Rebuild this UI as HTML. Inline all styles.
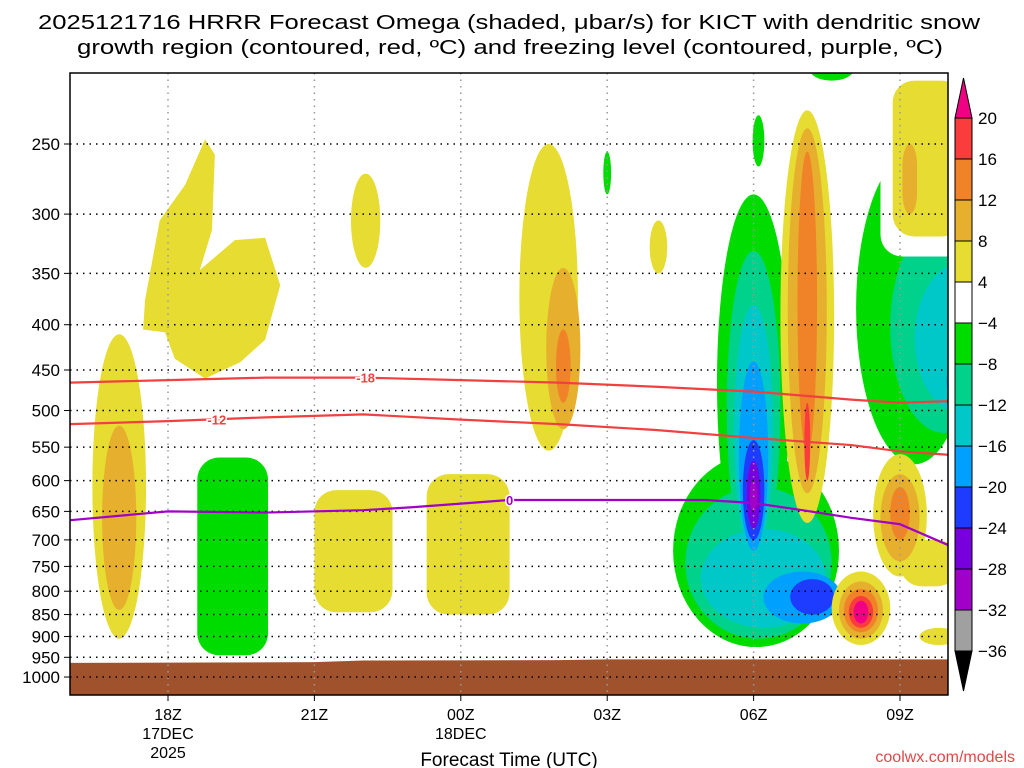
<!DOCTYPE html>
<html><head><meta charset="utf-8">
<style>
html,body{margin:0;padding:0;background:#fff;}
svg{display:block;font-family:"Liberation Sans",sans-serif;}
</style></head>
<body>
<svg id="chart" width="1024" height="768" viewBox="0 0 1024 768">
<text x="509" y="29" font-size="20" text-anchor="middle" textLength="942" lengthAdjust="spacingAndGlyphs">2025121716 HRRR Forecast Omega (shaded, μbar/s) for KICT with dendritic snow</text>
<text x="510" y="54" font-size="20" text-anchor="middle" textLength="866" lengthAdjust="spacingAndGlyphs">growth region (contoured, red, ºC) and freezing level (contoured, purple, ºC)</text>
<g id="plot"></g>
<g id="axes"></g>
<g id="cbar"></g>
<text x="509" y="766" font-size="19" text-anchor="middle">Forecast Time (UTC)</text>
<text x="1015" y="762" font-size="16" text-anchor="end" fill="#e04848">coolwx.com/models</text>
</svg>
<script>
// ---- data ----
const levelColors = ["#a0a0a0","#a000c8","#7800dc","#1e3cff","#00a0ff","#00c8c8","#00d28c","#00dc00","#ffffff","#e6dc32","#e6af2d","#f08228","#fa3c3c"];
const cbarLabels = ["20","16","12","8","4","-4","-8","-12","-16","-20","-24","-28","-32","-36"];
const pressureTicks = [250,300,350,400,450,500,550,600,650,700,750,800,850,900,950,1000];
const timeTickHours = [2,5,8,11,14,17];
const timeTickLabels = ["18Z","21Z","00Z","03Z","06Z","09Z"];
const dateLabels = {2:["17DEC","2025"],8:["18DEC"]};
// ellipses: [centerHour, halfWidthHours, pTop, pBottom, colorIndex]
const blobs = [
 [1.0,0.55,410,905,9],[1.0,0.35,520,840,10],
 [6.05,0.3,270,345,9],
 [9.8,0.6,250,555,9],[10.1,0.35,345,525,10],[10.1,0.15,405,490,11],
 [11.0,0.08,255,285,7],[12.05,0.18,305,350,9],
 [14.1,0.12,232,265,7],[15.6,0.45,200,212,7],[18.0,0.15,200,215,7],
 [14.0,0.75,285,760,7],[14.05,1.7,560,925,7],
 [14.0,0.55,330,745,6],[14.1,1.5,610,905,6],
 [14.0,0.4,380,725,5],[14.2,1.28,680,880,5],
 [14.0,0.3,440,720,4],[15.0,0.8,760,870,4],
 [14.0,0.22,540,700,3],[15.2,0.45,775,850,3],
 [14.0,0.14,570,680,2],[14.0,0.08,600,650,1],
 [15.1,0.55,229,670,9],[15.1,0.4,240,620,10],[15.1,0.2,255,560,11],[15.1,0.06,490,600,12],
 [17.3,1.2,255,575,7],[17.9,1.1,305,530,6],[18.3,1.0,340,505,5],[18.4,0.45,430,500,4],
 [17.0,0.55,560,770,9],[17.0,0.4,590,740,10],[17.0,0.2,610,700,11],
 [16.2,0.6,760,920,9],[16.2,0.45,780,905,10],[16.2,0.35,795,890,11],[16.2,0.25,810,880,12],[16.2,0.15,820,870,13]
];
// rounded rectangles: [hourLeft, hourRight, pTop, pBottom, colorIndex]
const rects = [
 [2.6,4.05,565,945,7],[5.0,6.6,615,845,9],[7.3,9.0,590,850,9],[17.0,18.2,700,790,9],[17.4,18.2,880,920,9],
 [16.6,18.4,195,335,8],[16.85,18.3,212,318,9],[17.05,17.35,250,300,10]
];
// polygon in [hour, pressure]
const cShape = [[1.49,405],[1.53,375],[1.83,305],[2.35,278],[2.76,247],[2.96,257],[2.9,313],[2.65,347],[3.37,321],[3.99,319],[4.3,361],[3.99,416],[3.48,441],[2.76,460],[2.14,437],[1.94,408]];
const lineHours = [0,2,4,6,8,10,12,14,16,17,18];
const m18 = [465,462,459,459,462,465,470,476,486,490,488];
const m12 = [518,514,509,505,512,518,526,537,547,556,561];
const zeroHours = [0,2,4,6,7,8,9,10,12,13,14,15,16,17,18];
const zeroP = [665,650,652,648,643,637,631,631,631,631,636,648,661,672,710];
const surfHours = [0,5,6,10,11,18];
const surfP = [964,962,958,957,955,955];
// ---- axes ----
const X0=70.4, PXH=48.8, Y250=144, PXL=384.5, PLOT={l:70,r:948,t:73,b:695};
const xs=h=>X0+h*PXH;
const ys=p=>Y250+PXL*Math.log(p/250);
const NS="http://www.w3.org/2000/svg";
function mk(tag,attrs,parent){const e=document.createElementNS(NS,tag);for(const k in attrs)e.setAttribute(k,attrs[k]);parent.appendChild(e);return e;}
const col=i=>i===13?"#f00082":levelColors[i];
const plot=document.getElementById('plot');
const defs=mk('defs',{},plot);
const cp=mk('clipPath',{id:'clip'},defs);
mk('rect',{x:PLOT.l,y:PLOT.t,width:PLOT.r-PLOT.l,height:PLOT.b-PLOT.t},cp);
const g=mk('g',{'clip-path':'url(#clip)'},plot);
function drawRect(r){
 const e=mk('rect',{x:xs(r[0]),y:ys(r[2]),width:xs(r[1])-xs(r[0]),height:ys(r[3])-ys(r[2]),rx:22,fill:col(r[4])},g);
 
 
}
rects.slice(0,5).forEach(drawRect);
{const e=mk('polygon',{points:cShape.map(q=>xs(q[0])+','+ys(q[1])).join(' '),fill:col(9),'stroke-linejoin':'round'},g);
 
 }
blobs.forEach(b=>{
 const y1=ys(b[2]),y2=ys(b[3]);
 const e=mk('ellipse',{cx:xs(b[0]),cy:(y1+y2)/2,rx:b[1]*PXH,ry:(y2-y1)/2,fill:col(b[4])},g);
 
 
});
rects.slice(5).forEach(drawRect);
// ground
{let pts=surfHours.map((h,i)=>xs(h)+','+ys(surfP[i]));pts.push(xs(18)+','+PLOT.b,xs(0)+','+PLOT.b);
 const e=mk('polygon',{points:pts.join(' '),fill:'#a0522d'},g);
 
 }
// grid
pressureTicks.forEach(p=>{mk('line',{x1:PLOT.l,x2:PLOT.r,y1:ys(p),y2:ys(p),stroke:'#000','stroke-width':1.5,'stroke-dasharray':'1.5 5'},g);});
timeTickHours.forEach(h=>{mk('line',{x1:xs(h),x2:xs(h),y1:PLOT.t,y2:PLOT.b,stroke:'#999','stroke-width':1.5,'stroke-dasharray':'1.5 5'},g);});
// contour lines
function cline(hs,ps,color,name){const e=mk('polyline',{points:hs.map((h,i)=>xs(h)+','+ys(ps[i])).join(' '),fill:'none',stroke:color,'stroke-width':2.2},g);
 
 }
cline(lineHours,m18,'#f04040','contour-minus18');
cline(lineHours,m12,'#f04040','contour-minus12');
cline(zeroHours,zeroP,'#a000c8','freezing-level');
function lbl(h,ps,hs,t,c){let i=0;while(i<hs.length-2&&hs[i+1]<h)i++;const f=(h-hs[i])/(hs[i+1]-hs[i]);const p=ps[i]+f*(ps[i+1]-ps[i]);
 const e=mk('text',{x:xs(h),y:ys(p)+5,'font-size':13,'font-weight':'bold','text-anchor':'middle',fill:c,stroke:'#fff','stroke-width':3,'paint-order':'stroke'},g);e.textContent=t;}
lbl(6.05,m18,lineHours,'-18','#f04040');
lbl(3.0,m12,lineHours,'-12','#f04040');
lbl(9.0,zeroP,zeroHours,'0','#a000c8');
// frame & ticks
const ax=document.getElementById('axes');
mk('rect',{x:PLOT.l,y:PLOT.t,width:PLOT.r-PLOT.l,height:PLOT.b-PLOT.t,fill:'none',stroke:'#000','stroke-width':1.5},ax);
pressureTicks.forEach(p=>{mk('line',{x1:PLOT.l-6,x2:PLOT.l,y1:ys(p),y2:ys(p),stroke:'#000'},ax);
 const t=mk('text',{x:60,y:ys(p)+6,'font-size':17,'text-anchor':'end'},ax);t.textContent=p;
 
 });
timeTickHours.forEach((h,i)=>{mk('line',{x1:xs(h),x2:xs(h),y1:PLOT.b,y2:PLOT.b+6,stroke:'#000'},ax);
 const t=mk('text',{x:xs(h),y:720,'font-size':16,'text-anchor':'middle'},ax);t.textContent=timeTickLabels[i];
 
 
 (dateLabels[h]||[]).forEach((s,j)=>{const d=mk('text',{x:xs(h),y:739+j*19,'font-size':16,'text-anchor':'middle'},ax);d.textContent=s;});});
// colorbar
const cb=document.getElementById('cbar');
const CX=955,CW=17,CT=118,CH=41;
const n=levelColors.length;
for(let i=0;i<n;i++){const ci=n-1-i;
 const e=mk('rect',{x:CX,y:CT+i*CH,width:CW,height:CH,fill:levelColors[ci],stroke:'#000','stroke-width':1},cb);
 
 }
mk('polygon',{points:`${CX},${CT} ${CX+CW},${CT} ${CX+CW/2},${CT-40}`,fill:'#f00082',stroke:'#000'},cb);
mk('polygon',{points:`${CX},${CT+n*CH} ${CX+CW},${CT+n*CH} ${CX+CW/2},${CT+n*CH+40}`,fill:'#000',stroke:'#000'},cb);
cbarLabels.forEach((s,i)=>{const t=mk('text',{x:978,y:CT+i*CH+6,'font-size':17},cb);t.textContent=s.replace('-','−');
 
 });
</script>
</body></html>
